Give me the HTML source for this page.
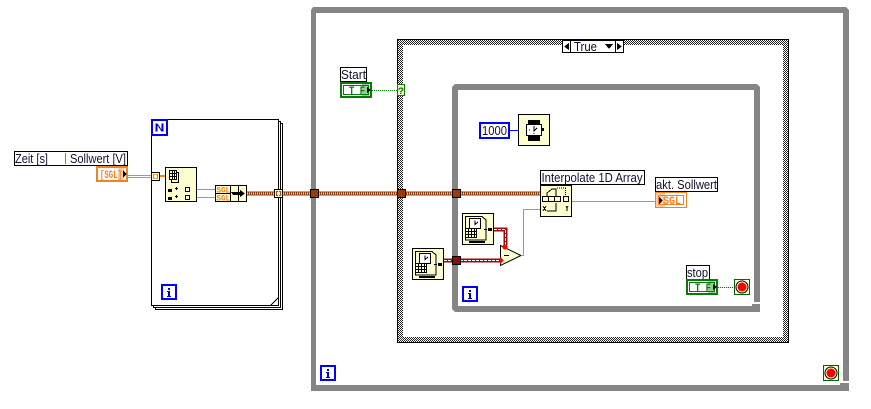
<!DOCTYPE html>
<html><head><meta charset="utf-8"><style>
html,body{margin:0;padding:0;background:#fff;width:871px;height:409px;overflow:hidden}
svg{display:block}
text{font-family:"Liberation Sans",sans-serif;font-size:13px;fill:#101030}
.b{font-family:"Liberation Mono",monospace;font-weight:bold}
</style></head><body>
<svg width="871" height="409" viewBox="0 0 871 409" xmlns="http://www.w3.org/2000/svg" shape-rendering="crispEdges">
<defs>
<pattern id="h" width="2" height="2" patternUnits="userSpaceOnUse"><rect width="2" height="2" fill="#fff"/><rect width="1" height="1" fill="#222"/><rect x="1" y="1" width="1" height="1" fill="#222"/></pattern>
<g id="tick"><rect x=".5" y=".5" width="31" height="31" fill="#fdfdcf" stroke="#000"/>
<path d="M3.500 3.500H20L24 7V27H3.500Z" fill="#fdfdcf" stroke="#000"/><rect x="7.500" y="5.500" width="11" height="10" fill="#fff" stroke="#000"/><path d="M13 7.500V11.500L16 9" fill="none" stroke="#000"/>
<path d="M3.500 15.500H14.500V24.500H3.500M3.500 18.500H14.500M3.500 21.500H14.500M6.500 15.500V24.500M9.500 15.500V24.500M12.500 15.500V24.500" fill="none" stroke="#000"/><path d="M7 28H23V30H7Z" fill="#000"/>
<path d="M22 16.500H25M24 14V19" stroke="#000"/><rect x="26" y="15" width="4" height="3" fill="#000"/></g>
<g id="stopi"><rect x=".5" y=".5" width="15" height="15" fill="#fdfdcf" stroke="#006400"/><circle cx="8" cy="8" r="6" fill="#fdfdcf" stroke="#000" shape-rendering="auto"/><circle cx="8" cy="8" r="4.500" fill="#f00" shape-rendering="auto"/></g>
<g id="itm"><rect x="1" y="1" width="14" height="14" fill="#fff" stroke="#0000ff" stroke-width="2"/><path d="M7 4h2v2H7zM6 7h3v5h1v1H6v-1h1V8H6z" fill="#0000d0"/></g>
<g id="tf"><rect x="1" y="1" width="30" height="14" fill="#fff" stroke="#087a08" stroke-width="2"/><rect x="3.500" y="3.500" width="25" height="9" fill="#fff" stroke="#087a08"/><text x="9" y="12" class="b" style="font-size:11px;fill:#087a08" textLength="16" lengthAdjust="spacingAndGlyphs">T F</text><rect x="22" y="2" width="7" height="12" fill="#087a08" opacity=".4"/><path d="M27 5L31 8L27 11Z" fill="#000"/></g>
</defs>

<!-- outer while loop -->
<path d="M313 7H846L849 10V13H316V391H313L311 388V10Z" fill="#858585" shape-rendering="auto"/>
<rect x="843" y="11" width="6" height="370" fill="#858585"/>
<rect x="311" y="385" width="532" height="6" fill="#858585"/>
<rect x="840" y="383" width="9" height="8" fill="#858585"/>

<!-- case structure -->
<rect x="397" y="39" width="392" height="304" fill="url(#h)"/>
<rect x="403" y="45" width="380" height="292" fill="#fff"/>
<path d="M397.500 343V39.500H788.500V342.500H397.500" fill="none" stroke="#000"/>
<rect x="562.500" y="40.500" width="61" height="12" fill="#fff" stroke="#000"/>
<path d="M570.500 40.500V52.500M615.500 40.500V52.500" stroke="#000"/>
<path d="M564 46.500L569 43V50Z M622 46.500L617 43V50Z M605 44H613L609 49Z" fill="#000"/>
<text x="574" y="51" textLength="23" lengthAdjust="spacingAndGlyphs">True</text>

<!-- inner while loop -->
<path d="M455 84H757L760 87V90H458V312H455L452 309V87Z" fill="#858585" shape-rendering="auto"/>
<rect x="754" y="88" width="6" height="214" fill="#858585"/>
<rect x="455" y="306" width="300" height="6" fill="#858585"/>
<rect x="752" y="304" width="8" height="8" fill="#858585"/>

<!-- for loop -->
<rect x="155.500" y="123.500" width="127" height="186" fill="#fff" stroke="#000"/>
<rect x="153.500" y="121.500" width="127" height="186" fill="#fff" stroke="#000"/>
<rect x="151.500" y="119.500" width="127" height="186" fill="#fff" stroke="#000"/>
<path d="M270.500 305.500L278.500 297.500V305.500Z" fill="#fff" stroke="#000"/>
<rect x="152" y="120" width="15" height="15" fill="#fff" stroke="#0000ff" stroke-width="2"/>
<path d="M156 131V123H158L162 129V123H164V131H162L158 125V131Z" fill="#0000d0" transform="translate(-.500 .500)"/>
<use href="#itm" x="161" y="284"/>

<!-- brown cluster wire -->
<path d="M247 193.500H540" stroke="#8f3d12" stroke-width="4"/>
<path d="M247 193.500H540" stroke="#f3dcc6" stroke-width="2" stroke-dasharray="1 1"/>

<!-- left label and terminal -->
<rect x="14.500" y="151.500" width="113" height="14" fill="#fff" stroke="#000"/>
<text x="15" y="163" textLength="33" lengthAdjust="spacingAndGlyphs">Zeit [s]</text>
<rect x="65" y="153" width="1" height="11" fill="#4a8ac8"/>
<text x="70" y="163" textLength="56" lengthAdjust="spacingAndGlyphs">Sollwert [V]</text>
<rect x="97" y="167" width="30" height="14" fill="#fff" stroke="#f58220" stroke-width="2"/>
<text x="100" y="178" class="b" style="font-size:11px;fill:#f58220" textLength="22" lengthAdjust="spacingAndGlyphs">[SGL]</text>
<rect x="118" y="168" width="6" height="12" fill="#f58220" opacity=".4"/>
<path d="M123 170.500L127 174L123 177.500Z" fill="#000"/>
<path d="M128 175.500H151M128 177.500H151" stroke="#f58220"/>
<rect x="151.500" y="172.500" width="8" height="8" fill="#fdfdcf" stroke="#000"/>
<path d="M155 174.500H153.500V178.500H155M156 174.500H157.500V178.500H156" fill="none" stroke="#f58220"/>
<path d="M160 176H165" stroke="#f58220" stroke-width="2"/>

<!-- index node -->
<rect x="165.500" y="167.500" width="31" height="34" fill="#fdfdcf" stroke="#000"/>
<path d="M169.500 170.500H176.500V179.500H169.500ZM169.500 173.500H176.500M169.500 176.500H176.500M172.500 170.500V179.500M174.500 170.500V179.500M176.500 172.500H178.500V182.500H171.500V179.500" fill="#fdfdcf" stroke="#000"/>
<rect x="168" y="189" width="4" height="3" fill="#000"/><rect x="168" y="197" width="4" height="3" fill="#000"/>
<path d="M176.500 187V190M175 188.500H178M176.500 195V198M175 196.500H178" stroke="#000"/>
<rect x="185.500" y="187.500" width="4" height="4" fill="#fff" stroke="#000"/><rect x="185.500" y="195.500" width="4" height="4" fill="#fff" stroke="#000"/>
<path d="M197 189.500H215M197 197.500H215" stroke="#f58220"/>

<!-- bundle -->
<rect x="215.500" y="185.500" width="31" height="16" fill="#fdfdcf" stroke="#000"/>
<path d="M230.500 185.500V201.500M215.500 193.500H230.500M238.500 185.500V201.500" stroke="#000"/>
<text x="216.500" y="192.500" class="b" style="font-size:8px;fill:#f58220" textLength="13.500" lengthAdjust="spacingAndGlyphs">SGL</text>
<text x="216.500" y="200.500" class="b" style="font-size:8px;fill:#f58220" textLength="13.500" lengthAdjust="spacingAndGlyphs">SGL</text>
<path d="M231 192H240V190L245 193.500L240 197V195H233Z" fill="#000"/>

<!-- tunnels on brown wire -->
<rect x="274.500" y="189.500" width="8" height="8" fill="#fdfdcf" stroke="#000"/>
<path d="M278 191.500H276.500V195.500H278M279 191.500H280.500V195.500H279" fill="none" stroke="#a04a10"/>
<rect x="310.500" y="189.500" width="8" height="8" fill="#983c0a" stroke="#000"/>
<rect x="397.500" y="189.500" width="8" height="8" fill="#983c0a" stroke="#000"/>
<rect x="452.500" y="189.500" width="8" height="8" fill="#983c0a" stroke="#000"/>

<!-- Start -->
<rect x="340.500" y="67.500" width="26" height="14" fill="#fff" stroke="#000"/>
<text x="341" y="79" textLength="25" lengthAdjust="spacingAndGlyphs">Start</text>
<use href="#tf" x="340" y="82"/>
<path d="M372 90.500H397" stroke="#087a08" stroke-dasharray="1 1"/>
<rect x="397.500" y="84.500" width="7" height="11" fill="#e8f8c8" stroke="#087a08"/>
<text x="398" y="94" class="b" style="font-size:10px;fill:#087a08">?</text>

<!-- 1000 + wait -->
<rect x="480" y="123" width="29" height="15" fill="#fff" stroke="#0000ff" stroke-width="2"/>
<text x="482" y="135" textLength="25" lengthAdjust="spacingAndGlyphs">1000</text>
<path d="M510 130.500H518" stroke="#0000ff"/>
<rect x="518.500" y="114.500" width="31" height="31" fill="#fdfdcf" stroke="#000"/>
<rect x="528" y="120" width="12" height="5" fill="#000"/><rect x="528" y="136" width="12" height="5" fill="#000"/>
<rect x="526.500" y="124.500" width="15" height="11" fill="#fff" stroke="#000"/>
<path d="M534 126V131L537 128M529 130h1M534 134v-1" fill="none" stroke="#000"/><rect x="542" y="128" width="2" height="3" fill="#000"/>

<!-- ticks -->
<use href="#tick" x="462" y="213"/>
<use href="#tick" x="412" y="248"/>

<!-- red wires -->
<path d="M444 260.500H500" stroke="#9b0a0a" stroke-width="4"/>
<path d="M444 260.500H500" stroke="#fff" stroke-dasharray="3 1"/>
<path d="M494 229.500H505.500V245" fill="none" stroke="#9b0a0a" stroke-width="4"/>
<path d="M494 229.500H505.500V245" fill="none" stroke="#fff" stroke-dasharray="3 1"/>
<rect x="452.500" y="256.500" width="8" height="8" fill="#8c0a0a" stroke="#000"/>

<!-- subtract -->
<path d="M500.500 245.500L521 255.500L500.500 265.500Z" fill="#fdfdcf" stroke="#000" shape-rendering="auto"/>
<path d="M504 255.500H509" stroke="#000"/>
<circle cx="505" cy="247" r="2.500" fill="#f00"/>
<path d="M500 257L504 260.500L500 264Z" fill="#f00"/>
<path d="M521 255.500H523.500V209.500H540" fill="none" stroke="#f58220"/>

<!-- interpolate -->
<rect x="540.500" y="170.500" width="104" height="14" fill="#fff" stroke="#000"/>
<text x="541.500" y="182" textLength="101" lengthAdjust="spacingAndGlyphs">Interpolate 1D Array</text>
<rect x="540.500" y="185.500" width="31" height="31" fill="#fdfdcf" stroke="#000"/>
<path d="M542.500 196.500H560.500V201.500H542.500ZM548.500 196.500V201.500M554.500 196.500V201.500" fill="#fdfdcf" stroke="#000"/>
<path d="M547 196V193L552 189H556V196" fill="none" stroke="#000"/>
<rect x="563.500" y="196.500" width="5" height="5" fill="#fdfdcf" stroke="#000"/>
<path d="M565.500 188V196M557 188H566" stroke="#000" stroke-dasharray="1 1"/>
<path d="M543 206l3 5M546 206l-3 5M566 206l1 2 1-2M567 208v3M547 211H556V203" fill="none" stroke="#000"/>
<path d="M572 201.500H655" stroke="#f58220"/>

<!-- akt. Sollwert -->
<rect x="655.500" y="177.500" width="62" height="14" fill="#fff" stroke="#000"/>
<text x="656" y="189" textLength="61" lengthAdjust="spacingAndGlyphs">akt. Sollwert</text>
<rect x="655.500" y="192.500" width="31" height="15" fill="#fff" stroke="#f58220"/>
<rect x="658.500" y="195.500" width="25" height="9" fill="#fff" stroke="#f58220"/>
<rect x="656" y="193" width="9" height="14" fill="#f58220" opacity=".4"/>
<path d="M659 197L663 200.500L659 204Z" fill="#000"/>
<text x="663" y="204" class="b" style="font-size:11px;fill:#f58220" textLength="18" lengthAdjust="spacingAndGlyphs">SGL</text>

<!-- stop -->
<rect x="686.500" y="265.500" width="23" height="14" fill="#fff" stroke="#000"/>
<text x="687" y="277" textLength="21" lengthAdjust="spacingAndGlyphs">stop</text>
<use href="#tf" x="686" y="279"/>
<path d="M718 287.500H734" stroke="#087a08" stroke-dasharray="1 1"/>
<use href="#stopi" x="734" y="279"/>

<!-- inner i + outer i + outer stop -->
<use href="#itm" x="462" y="286"/>
<use href="#itm" x="320" y="365"/>
<use href="#stopi" x="823" y="365"/>
</svg>
</body></html>
